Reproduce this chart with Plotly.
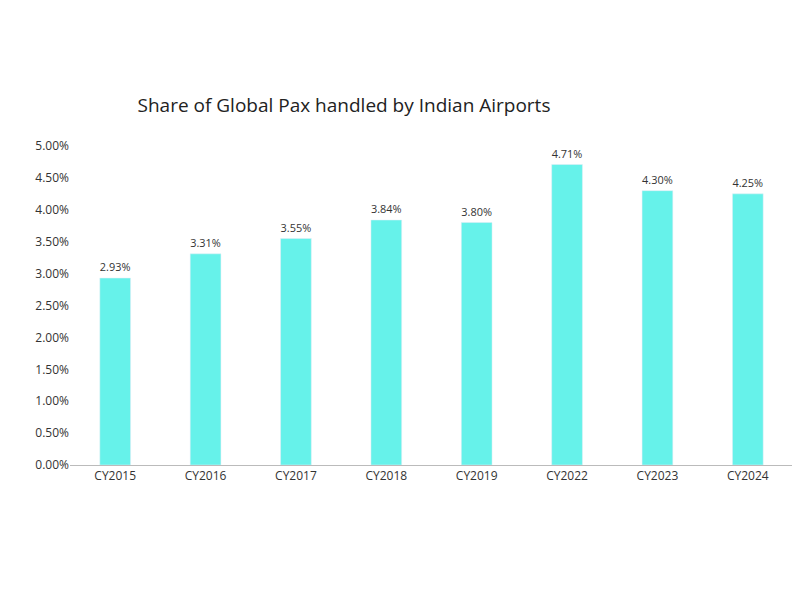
import plotly.graph_objects as go

years = ["CY2015", "CY2016", "CY2017", "CY2018", "CY2019", "CY2022", "CY2023", "CY2024"]
share = [2.93, 3.31, 3.55, 3.84, 3.80, 4.71, 4.30, 4.25]
yticks = [0, 0.5, 1, 1.5, 2, 2.5, 3, 3.5, 4, 4.5, 5]

fig = go.Figure()
fig.add_trace(go.Bar(
    x=years, y=share, marker_color="#66F2EA",
    text=[f"{v:.2f}%" for v in share], textposition="outside",
    textfont=dict(size=12, color="#333333"), cliponaxis=False,
))

fig.update_layout(
    width=800, height=600,
    margin=dict(l=62, r=15, t=138, b=143),
    paper_bgcolor="white", plot_bgcolor="white",
    font=dict(family="Open Sans, Liberation Sans", size=12, color="#333333"),
    title=dict(text="Share of Global Pax handled by Indian Airports",
               x=0.42, xanchor="center", y=0.838, yanchor="middle",
               font=dict(size=19, color="#222222")),
    bargap=0.66, showlegend=False,
    xaxis=dict(showline=True, linecolor="#BBBBBB", showgrid=False, ticks=""),
    yaxis=dict(range=[0, 5], tickvals=yticks,
               ticktext=[f"{v:.2f}%" for v in yticks],
               showgrid=False, zeroline=False, showline=False),
)

fig.write_html("out.html")
